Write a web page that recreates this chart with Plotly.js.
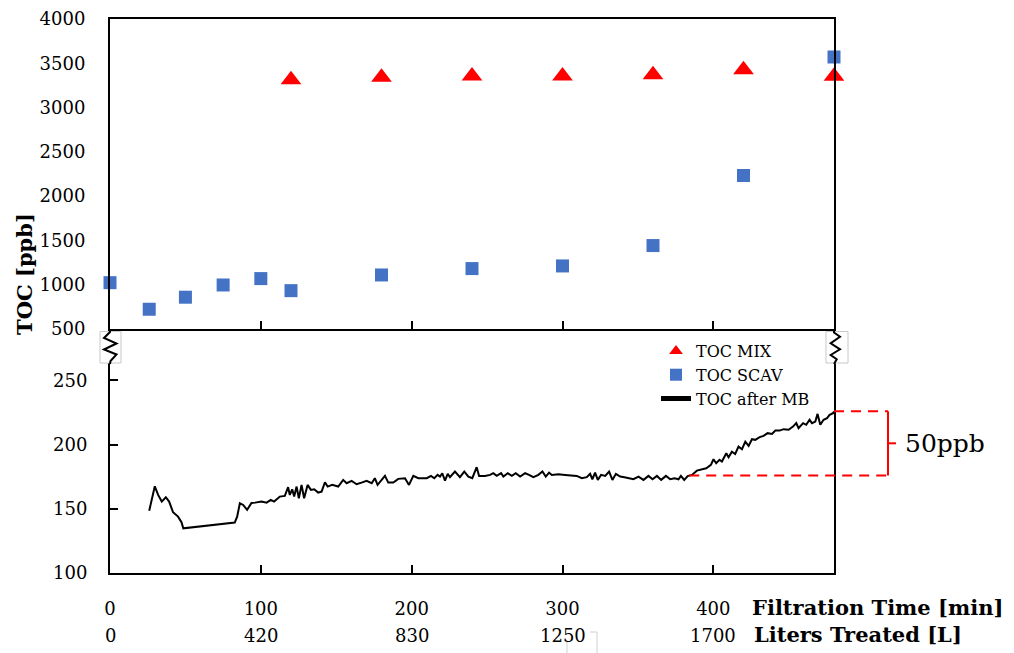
<!DOCTYPE html>
<html>
<head>
<meta charset="utf-8">
<script src="https://cdn.plot.ly/plotly-3.0.1.min.js"></script>
<style>
  html, body { margin: 0; padding: 0; background: #fff; }
  #chart { width: 1014px; height: 653px; }
</style>
</head>
<body>
<div id="chart"></div>
<script>
// TOC of the mixed feed (triangles) and of the scavenger effluent (squares)
const mixTime = [120, 180, 240, 300, 360, 420, 480];
const mixToc = [3313, 3342, 3356, 3356, 3370, 3427, 3355];

const scavTime = [0, 26, 50, 75, 100, 120, 180, 240, 300, 360, 420, 480];
const scavToc = [1023, 723, 859, 997, 1069, 933, 1110, 1182, 1212, 1442, 2233, 3571];

// Continuous TOC reading after the mixed bed
const mbTime = [
  26, 29.7, 31.9, 34.3, 37, 39.2, 41.8, 45.1, 47.4, 48.6,
  82.7, 84.3, 86.1, 88.3, 90.9, 93.8, 96.2, 100.5, 103.8, 106.6,
  108.8, 112.6, 115.9, 118.1, 119.2, 120.8, 122.1, 123.7, 125.2, 127,
  128.7, 131, 133.2, 135.4, 138, 140.3, 142.5, 144.3, 147.3, 151.3,
  154.6, 156.9, 160.2, 163.5, 166.8, 170.1, 173.5, 175.6, 177.4, 179,
  182.3, 184.5, 187.8, 191.1, 195.6, 198.2, 201.1, 204.4, 210, 212.8,
  215, 217.2, 218.8, 220.3, 222.1, 223.9, 225.4, 228.7, 232, 234.9,
  237.6, 240.2, 243.1, 244.7, 248.6, 252, 254.1, 256.4, 259.3, 260.8,
  263.7, 266.4, 269, 271.9, 275.2, 277.8, 280.7, 284, 286.7, 288.9,
  291.1, 292.9, 297.3, 301.7, 306.2, 309.5, 312.8, 316.1, 318.3, 319.8,
  321.6, 323.4, 325.6, 328.3, 330.9, 333.1, 335.4, 338.2, 341.1, 343.7,
  347, 350.4, 353.7, 357, 359.7, 362.6, 365.4, 368.6, 371.4, 374.3,
  376.9, 378.5, 380.7, 383, 385.8, 389.1, 392.4, 395.3, 398.4, 400.1,
  401.9, 404.1, 405.7, 408.6, 410.1, 412.3, 414.5, 416.7, 419, 421.2,
  423.4, 425.6, 427.8, 430.7, 433.3, 436, 438.9, 441.1, 443.9, 446.6,
  449.9, 452.8, 455, 456.5, 459.5, 461.6, 463.8, 465.4, 467.6, 469.1,
  470.9, 473.1, 475.4, 477.1, 479.4, 480
];
const mbToc = [
  148.5, 167.5, 160.8, 155.6, 159, 155.6, 147.3, 143.9, 139.5, 134.8,
  139.3, 143.9, 154.3, 153, 149.2, 154.5, 154.8, 155.6, 154.8, 156.9,
  155.6, 159.5, 160, 166.8, 160.8, 165.2, 159.5, 167.3, 158.2, 168.6,
  158.2, 168.6, 164.7, 165.2, 162.6, 163.4, 170.7, 167.3, 168.6, 167.3,
  172.5, 169.9, 171.7, 169.1, 170.4, 171.7, 169.9, 173.8, 168.6, 171.2,
  175.6, 170.4, 170.4, 173.3, 173.8, 168.6, 175.6, 173.8, 173.8, 175.6,
  173.8, 176.4, 175.1, 177.7, 171.9, 177.2, 174.6, 179, 174.6, 179,
  175.1, 173.8, 182.4, 175.6, 175.6, 176.4, 177.7, 175.6, 177.7, 175.1,
  177.7, 175.6, 177.7, 175.1, 177.7, 176.4, 174.6, 176.4, 179, 175.1,
  178.2, 176.4, 176.9, 176.4, 175.6, 175.6, 173.8, 174.6, 177.2, 173,
  178.2, 172.5, 176.4, 175.6, 179, 172.5, 177.2, 175.1, 174.6, 173.8,
  173, 175.1, 172.5, 175.6, 173, 175.6, 172.5, 175.6, 173, 173.8,
  173, 175.6, 172.5, 175.5, 176.4, 179.7, 180.8, 181.6, 184.2, 188.6,
  185.5, 188.1, 186.8, 193.3, 190.2, 194.5, 192.7, 198.4, 196.4, 202.3,
  199, 204.2, 203.7, 205.8, 206.8, 208.9, 208.3, 210.9, 210.9, 212,
  211.5, 214, 216.7, 212.8, 216.7, 215.4, 219.3, 216.7, 217.9, 223.9,
  215.4, 219.3, 220.6, 223.1, 224.5, 225.7
];

// Shared axis labels: filtration time and the matching treated volume
const timeTicks = [0, 100, 200, 300, 400];
const timeLabels = ['0', '100', '200', '300', '400'];
const litersLabels = ['0', '420', '830', '1250', '1700'];

// Rise of TOC after the mixed bed at the end of the run
const riseStart = 384;
const riseLow = 176;
const riseSpan = 50;

const SERIF = 'DejaVu Serif';
const tickFont = { family: SERIF, size: 18, color: '#000' };
const W = 1014, H = 653;
const M = { l: 110, r: 180, t: 19, b: 80 };
const plotW = W - M.l - M.r, plotH = H - M.t - M.b;
const px = v => (v - M.l) / plotW;           // pixel column -> paper x
const py = v => (H - M.b - v) / plotH;       // pixel row -> paper y
const split = py(329);                        // boundary between the two panels
const xMax = 480;

const traces = [
  {
    name: 'TOC MIX', x: mixTime, y: mixToc, xaxis: 'x', yaxis: 'y',
    type: 'scatter', mode: 'markers', cliponaxis: false,
    marker: { symbol: 'triangle-up', size: 18, color: '#ff0000' }
  },
  {
    name: 'TOC SCAV', x: scavTime, y: scavToc, xaxis: 'x', yaxis: 'y',
    type: 'scatter', mode: 'markers', cliponaxis: false,
    marker: { symbol: 'square', size: 13, color: '#4472c4' }
  },
  {
    name: 'TOC after MB', x: mbTime, y: mbToc, xaxis: 'x2', yaxis: 'y2',
    type: 'scatter', mode: 'lines',
    line: { color: '#000', width: 2 }
  }
];

const axisCommon = {
  showgrid: false, zeroline: false, showline: true,
  linecolor: '#000', linewidth: 2, tickcolor: '#000', tickwidth: 2,
  tickfont: tickFont
};

const shapes = [];
const annotations = [];

// bracket marking the 50 ppb rise
const bx = px(888);
const red = '#ff0000';
shapes.push(
  { type: 'line', xref: 'paper', yref: 'y2', x0: riseStart / xMax, x1: bx, y0: riseLow, y1: riseLow,
    line: { color: red, width: 2, dash: '10px,7px' } },
  { type: 'line', xref: 'paper', yref: 'y2', x0: 1, x1: bx, y0: riseLow + riseSpan, y1: riseLow + riseSpan,
    line: { color: red, width: 2, dash: '10px,7px' } },
  { type: 'line', xref: 'paper', yref: 'y2', x0: bx, x1: bx, y0: riseLow, y1: riseLow + riseSpan,
    line: { color: red, width: 2 } },
  { type: 'line', xref: 'paper', yref: 'y2', x0: bx, x1: px(896), y0: riseLow + riseSpan / 2, y1: riseLow + riseSpan / 2,
    line: { color: red, width: 2 } }
);
annotations.push({
  text: riseSpan + 'ppb', xref: 'paper', yref: 'y2', x: px(903), y: riseLow + riseSpan / 2,
  xanchor: 'left', yanchor: 'middle', showarrow: false,
  font: { family: SERIF, size: 25, color: '#000' }
});

// axis-break marks on both vertical axes
function breakMark(x0, x1, pts) {
  shapes.push({
    type: 'rect', xref: 'paper', yref: 'paper',
    x0: px(x0), x1: px(x1), y0: py(331.5), y1: py(363),
    fillcolor: '#fff', line: { color: '#c8c8c8', width: 1 }, layer: 'above'
  });
  const d = pts.map((p, i) => (i ? 'L' : 'M') + px(p[0]).toFixed(5) + ',' + py(p[1]).toFixed(5)).join(' ');
  shapes.push({ type: 'path', xref: 'paper', yref: 'paper', path: d,
    line: { color: '#000', width: 2 }, layer: 'above' });
}
breakMark(100, 121, [[110, 330], [110, 332], [104, 338], [116.5, 343.5], [104, 349.5], [116.5, 354.5], [110.5, 361], [110, 364]]);
breakMark(826, 848, [[834, 330], [834, 332.5], [840, 336.7], [830.7, 343.3], [840, 349.3], [830.7, 355], [836.7, 359.3], [834, 364]]);

// faint frame fragment beside the volume labels
shapes.push(
  { type: 'line', xref: 'paper', yref: 'paper', x0: px(567), x1: px(567), y0: py(640), y1: py(653),
    line: { color: '#d0d0d0', width: 1 } },
  { type: 'line', xref: 'paper', yref: 'paper', x0: px(597), x1: px(597), y0: py(632), y1: py(653),
    line: { color: '#d0d0d0', width: 1 } },
  { type: 'line', xref: 'paper', yref: 'paper', x0: px(590), x1: px(597), y0: py(632), y1: py(632),
    line: { color: '#d0d0d0', width: 1 } }
);

// second row of x labels: treated volume
timeTicks.forEach((t, i) => {
  annotations.push({
    text: litersLabels[i], xref: 'x2', yref: 'paper', x: t, y: py(635.5),
    xanchor: 'center', yanchor: 'middle', showarrow: false, font: tickFont
  });
});

// axis titles
annotations.push(
  { text: 'Filtration Time [min]', xref: 'paper', yref: 'paper', x: px(750), y: py(607),
    xanchor: 'left', yanchor: 'middle', showarrow: false,
    font: { family: SERIF, size: 21, color: '#000', weight: 'bold' } },
  { text: 'Liters Treated [L]', xref: 'paper', yref: 'paper', x: px(752), y: py(634.5),
    xanchor: 'left', yanchor: 'middle', showarrow: false,
    font: { family: SERIF, size: 21, color: '#000', weight: 'bold' } },
  { text: 'TOC [ppb]', xref: 'paper', yref: 'paper', x: px(24), y: py(274),
    xanchor: 'center', yanchor: 'middle', textangle: -90, showarrow: false,
    font: { family: SERIF, size: 21, color: '#000', weight: 'bold' } }
);

const layout = {
  width: W, height: H,
  margin: M,
  paper_bgcolor: '#fff', plot_bgcolor: '#fff',
  font: { family: SERIF, color: '#000' },
  showlegend: true,
  legend: {
    x: px(656), y: py(334), xanchor: 'left', yanchor: 'top',
    bgcolor: 'rgba(0,0,0,0)', borderwidth: 0,
    font: { family: SERIF, size: 16, color: '#000' },
    itemsizing: 'constant'
  },
  xaxis: Object.assign({}, axisCommon, {
    domain: [0, 1], anchor: 'y', range: [0, xMax],
    tickvals: timeTicks, ticks: 'inside', ticklen: 8,
    showticklabels: false, mirror: true
  }),
  yaxis: Object.assign({}, axisCommon, {
    domain: [split, 1], anchor: 'x', range: [500, 4000],
    tick0: 500, dtick: 500, ticks: '', mirror: true,
    ticklabelstandoff: 19
  }),
  xaxis2: Object.assign({}, axisCommon, {
    domain: [0, 1], anchor: 'y2', range: [0, xMax],
    tickvals: timeTicks, ticktext: timeLabels, ticks: 'inside', ticklen: 8,
    ticklabelstandoff: 18
  }),
  yaxis2: Object.assign({}, axisCommon, {
    domain: [0, split], anchor: 'x2', range: [100, 290],
    tickvals: [100, 150, 200, 250], ticks: 'inside', ticklen: 8, mirror: true,
    ticklabelstandoff: 17
  }),
  shapes: shapes,
  annotations: annotations
};

Plotly.newPlot('chart', traces, layout, { displayModeBar: false, staticPlot: true });
</script>
</body>
</html>
